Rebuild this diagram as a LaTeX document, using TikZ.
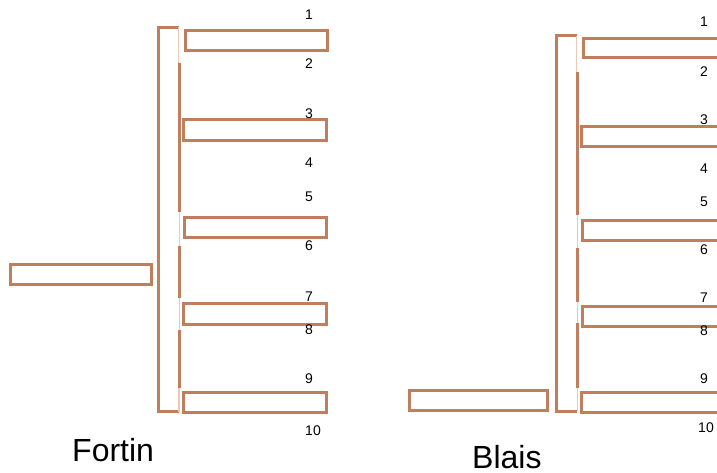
\documentclass[tikz,border=0pt]{standalone}
\usepackage{fontspec}
\setmainfont{Liberation Sans}
\begin{document}
\begin{tikzpicture}[x=1pt,y=-1pt,
  wood/.style={draw=woodc,line width=3pt},
  rimlt/.style={draw=woodl,line width=1.5pt},
  num/.style={font=\fontsize{14}{14}\selectfont,inner sep=0pt,anchor=base},
  title/.style={font=\fontsize{32}{32}\selectfont,inner sep=0pt,anchor=base west}]
\definecolor{woodc}{RGB}{192,126,92}
\definecolor{woodl}{RGB}{236,200,182}
\useasboundingbox (0,0) rectangle (717,472);
\clip (0,0) rectangle (717,472);
% ---------- Fortin ----------
\draw[wood] (179,27) -- (158,27) -- (158,411.5) -- (179,411.5);
\draw[rimlt] (178.5,27) -- (178.5,63);
\draw[wood] (179.5,63) -- (179.5,212);
\draw[rimlt] (179.5,212) -- (179.5,246);
\draw[wood] (179.5,246) -- (179.5,298);
\draw[rimlt] (179.5,298) -- (179.5,330);
\draw[wood] (179.5,330) -- (179.5,388);
\draw[rimlt] (179,388) -- (179,411.5);
\draw[wood] (185,30) rectangle (327.5,50);
\draw[wood] (183.5,119.5) rectangle (326,140);
\draw[wood] (184,217) rectangle (326.5,237);
\draw[wood] (183.5,303.5) rectangle (326.5,324);
\draw[wood] (183,392) rectangle (326.5,412);
\draw[wood] (10,264) rectangle (151,284);
\foreach \t/\y in {1/19,2/68,3/118,4/167,5/201,6/250,7/301,8/334,9/383}
  \node[num] (f\t) at (309,\y) {\t};
\node[num] (f10) at (313,435) {10};
\node[title] (fortin) at (72,461) {Fortin};
% ---------- Blais ----------
\draw[wood] (577,35.5) -- (556,35.5) -- (556,411) -- (577,411);
\draw[rimlt] (576.5,35.5) -- (576.5,72);
\draw[wood] (577,72) -- (577,215);
\draw[rimlt] (577.5,215) -- (577.5,248);
\draw[wood] (577,248) -- (577,302);
\draw[rimlt] (577.5,302) -- (577.5,323);
\draw[wood] (577,323) -- (577,388);
\draw[rimlt] (577.5,388) -- (577.5,411);
\draw[wood] (583,38) rectangle (725,57.5);
\draw[wood] (581.5,126) rectangle (725,146);
\draw[wood] (582,220) rectangle (725,240);
\draw[wood] (582,306) rectangle (725,326);
\draw[wood] (581.5,392) rectangle (725,412);
\draw[wood] (409,390.5) rectangle (547,410.5);
\foreach \t/\y in {1/26,2/76,3/124,4/173,5/206,6/254,7/302,8/335,9/383}
  \node[num] (b\t) at (704,\y) {\t};
\node[num] (b10) at (706,432) {10};
\node[title] (blais) at (472,468) {Blais};
\end{tikzpicture}
\end{document}
